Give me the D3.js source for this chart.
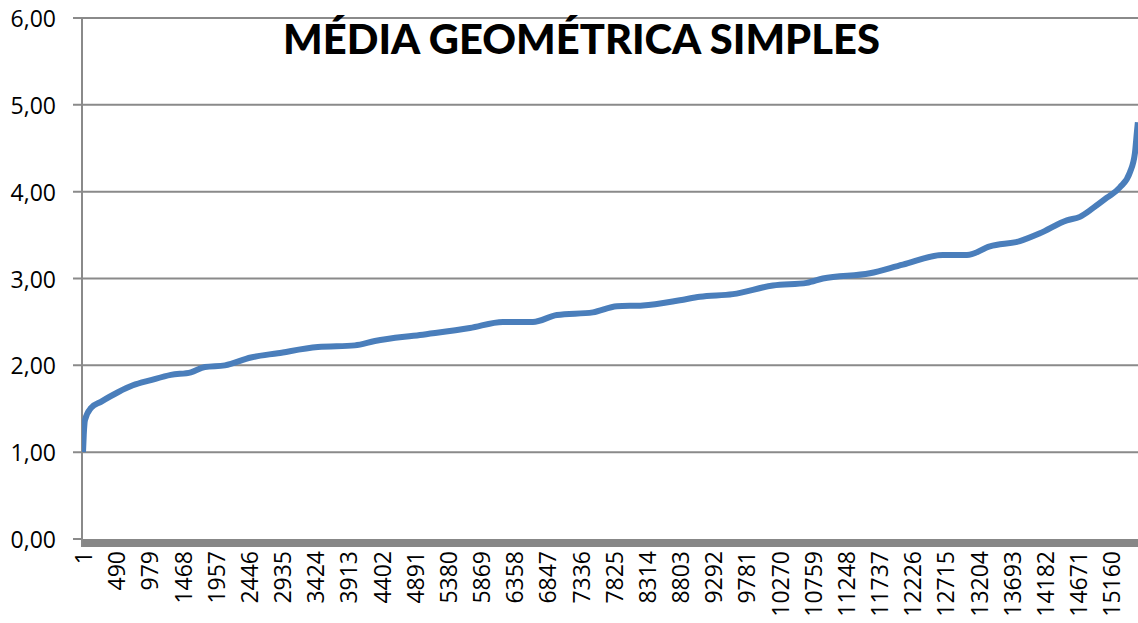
<!DOCTYPE html>
<html>
<head>
<meta charset="utf-8">
<script src="https://cdn.jsdelivr.net/npm/d3@7/dist/d3.min.js"></script>
<style>
  html, body { margin: 0; padding: 0; background: #fff; }
  svg { display: block; }
</style>
</head>
<body>
<svg id="chart" width="1138" height="623"></svg>
<script>
// ---- data ----
const title = "MÉDIA GEOMÉTRICA SIMPLES";
const pointIndex = [1, 12, 30, 120, 265, 516, 737, 1002, 1297, 1592, 1798, 2093, 2476, 2874, 3464, 4009, 4304, 4968, 5705, 6191, 6634, 6988, 7518, 7872, 8255, 8801, 9096, 9582, 10172, 10673, 10909, 11602, 12088, 12678, 13032, 13371, 13813, 14108, 14506, 14698, 14890, 15096, 15288, 15435, 15509, 15538, 15553];
const pointValue = [1.00, 1.20, 1.37, 1.51, 1.58, 1.69, 1.77, 1.83, 1.89, 1.92, 1.98, 2.00, 2.09, 2.14, 2.21, 2.23, 2.28, 2.35, 2.43, 2.50, 2.50, 2.58, 2.61, 2.68, 2.69, 2.75, 2.79, 2.82, 2.92, 2.95, 3.00, 3.06, 3.16, 3.27, 3.27, 3.37, 3.43, 3.52, 3.67, 3.71, 3.81, 3.93, 4.05, 4.22, 4.44, 4.68, 4.80];
const xTickLabels = [1, 490, 979, 1468, 1957, 2446, 2935, 3424, 3913, 4402, 4891, 5380, 5869, 6358, 6847, 7336, 7825, 8314, 8803, 9292, 9781, 10270, 10759, 11248, 11737, 12226, 12715, 13204, 13693, 14182, 14671, 15160];
const yTicks = [0, 1, 2, 3, 4, 5, 6];
const lastIndex = 15555;

(function () {
// ---- layout ----
const svg = d3.select("#chart");
const pLeft = 82, pRight = 1138, pTop = 18, pBottom = 539;
const x = d3.scaleLinear().domain([1, lastIndex]).range([83, pRight]);
const y = d3.scaleLinear().domain([0, 6]).range([pBottom, pTop]);
const fmt = d3.formatLocale({decimal: ",", thousands: ".", grouping: [3], currency: ["", ""]}).format(".2f");
const grid = "#8a8a8a";

svg.append("rect").attr("width", 1138).attr("height", 623).attr("fill", "#fff");

// gridlines + ticks
svg.append("g").selectAll("line").data(yTicks.filter(d => d > 0)).join("line")
  .attr("x1", 73).attr("x2", pRight)
  .attr("y1", d => y(d)).attr("y2", d => y(d))
  .attr("stroke", grid).attr("stroke-width", 2);

// y axis labels
svg.append("g").selectAll("text").data(yTicks).join("text")
  .attr("x", 56).attr("y", d => y(d))
  .attr("text-anchor", "end").attr("dominant-baseline", "central")
  .attr("font-family", "'Open Sans', sans-serif").attr("font-size", 23)
  .attr("fill", "#000").text(d => fmt(d));

// y axis line
svg.append("line").attr("x1", pLeft).attr("x2", pLeft).attr("y1", pTop).attr("y2", 547)
  .attr("stroke", grid).attr("stroke-width", 2);
// tick at zero
svg.append("line").attr("x1", 73).attr("x2", pLeft).attr("y1", y(0)).attr("y2", y(0))
  .attr("stroke", grid).attr("stroke-width", 2);

// floor band (x axis)
svg.append("rect").attr("x", pLeft + 1).attr("y", pBottom).attr("width", pRight - pLeft).attr("height", 8)
  .attr("fill", "#878787");

// x labels
svg.append("g").selectAll("text").data(xTickLabels).join("text")
  .attr("transform", d => `translate(${x(d)},551) rotate(-90)`)
  .attr("text-anchor", "end").attr("dominant-baseline", "central")
  .attr("font-family", "'Open Sans', sans-serif").attr("font-size", 23)
  .attr("fill", "#000").text(d => d);

// line
svg.append("defs").append("clipPath").attr("id", "clip")
  .append("rect").attr("x", pLeft).attr("y", 0).attr("width", pRight - pLeft).attr("height", pBottom);
const pts = pointIndex.map((d, i) => [d, pointValue[i]]);
svg.append("path").datum(pts)
  .attr("clip-path", "url(#clip)")
  .attr("d", d3.line().x(d => x(d[0])).y(d => y(d[1])).curve(d3.curveMonotoneX))
  .attr("fill", "none").attr("stroke", "#4a7ebb").attr("stroke-width", 6)
  .attr("stroke-linejoin", "round");

// title
const t = svg.append("text").attr("x", 581.5).attr("y", 54)
  .attr("text-anchor", "middle")
  .attr("font-family", "Lato, sans-serif").attr("font-weight", 900)
  .attr("font-size", 40).attr("fill", "#000").text(title);
const w = t.node().getComputedTextLength();
t.attr("font-size", 40 * 597 / w);
})();
</script>
</body>
</html>
